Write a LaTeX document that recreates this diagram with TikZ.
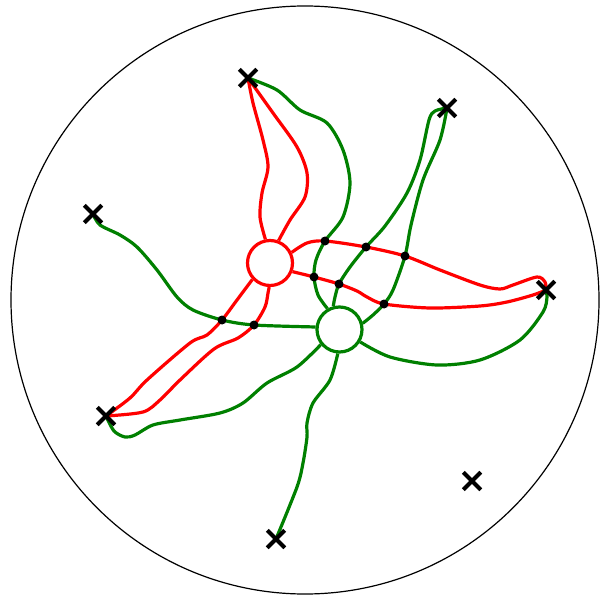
\documentclass[tikz,border=0pt]{standalone}
\usetikzlibrary{shapes.misc}
\definecolor{redC}{HTML}{FF0000}
\definecolor{greenC}{HTML}{008000}
\tikzset{rim/.style={draw=black,line width=1.2pt},
  redl/.style={draw=redC,line width=3.2pt},
  greenl/.style={draw=greenC,line width=3.2pt},
  hub/.style={circle,line width=3.2pt,fill=white,minimum size=45pt,inner sep=0pt},
  punct/.style={cross out,draw=black,line width=4pt,minimum size=13.5pt,inner sep=0pt},
  crossing/.style={circle,fill=black,minimum size=9pt,inner sep=0pt}}
\begin{document}
\begin{tikzpicture}[x=1pt,y=-1pt]
\useasboundingbox (0,0) rectangle (600,601);
\draw[rim] (305,300) circle (294pt);
\node[hub,draw=redC] (rc) at (270,263) {};
\node[hub,draw=greenC] (gc) at (339.5,329.5) {};
\coordinate (pA) at (248,78);
\coordinate (pB) at (447,108);
\coordinate (pC) at (93,214);
\coordinate (pD) at (546,290);
\coordinate (pE) at (106,416);
\coordinate (pF) at (276,539);
\coordinate (pG) at (472,481);
\coordinate (k1) at (325,241);
\coordinate (k2) at (366,247);
\coordinate (k3) at (405,256);
\coordinate (k4) at (314,277);
\coordinate (k5) at (339,284);
\coordinate (k6) at (384,304);
\coordinate (k7) at (222,320);
\coordinate (k8) at (254,325);
\draw[redl] plot[smooth] coordinates {(rc.101) (260,217) (262,193) (268,167) (263,140) (253,103) (pA)};
\draw[redl] plot[smooth] coordinates {(rc.69) (290,220) (305,197) (307,173) (297,147) (273,113) (pA)};
\draw[redl] plot[smooth] coordinates {(rc.26) (307,243) (k1) (k2) (k3) (440,270) (480,285) (500,289) (513,285) (537,277) (545,282) (pD)};
\draw[redl] plot[smooth] coordinates {(pD) (533,295) (507,302) (480,306) (430,308) (k6) (367,297) (357,291) (k5) (k4) (rc.-21)};
\draw[redl] plot[smooth] coordinates {(rc.223) (237,300) (k7) (207,335) (190,343) (147,380) (130,398) (pE)};
\draw[redl] plot[smooth] coordinates {(rc.268) (268,293) (265,307) (k8) (238,338) (214,349) (180,380) (160,400) (143,412) (pE)};
\draw[greenl] plot[smooth] coordinates {(pC) (100,225) (120,235) (137,247) (157,270) (177,297) (193,310) (k7) (k8) (gc.174)};
\draw[greenl] plot[smooth] coordinates {(gc.219) (297,367) (267,383) (243,403) (220,413) (180,420) (153,425) (135,435) (125,437) (114,431) (pE)};
\draw[greenl] plot[smooth] coordinates {(gc.266) (330,380) (313,403) (307,423) (307,437) (303,463) (297,487) (pF)};
\draw[greenl] plot[smooth] coordinates {(gc.-31) (390,357) (437,365) (480,360) (520,340) (543,312) (547,297) (pD)};
\draw[greenl] plot[smooth] coordinates {(gc.15) (373,315) (k6) (393,290) (k3) (411,225) (423,180) (440,140) (pB)};
\draw[greenl] plot[smooth] coordinates {(gc.105) (335,297) (k5) (350,267) (k2) (385,226) (407,193) (420,160) (429,120) (435,111) (pB)};
\draw[greenl] plot[smooth] coordinates {(gc.120) (318,295) (k4) (316,260) (k1) (343,217) (350,183) (343,150) (327,123) (300,110) (277,90) (pA)};
\foreach \k in {1,...,8} \node[crossing] at (k\k) {};
\foreach \p in {pA,pB,pC,pD,pE,pF,pG} \node[punct] at (\p) {};
\end{tikzpicture}
\end{document}
